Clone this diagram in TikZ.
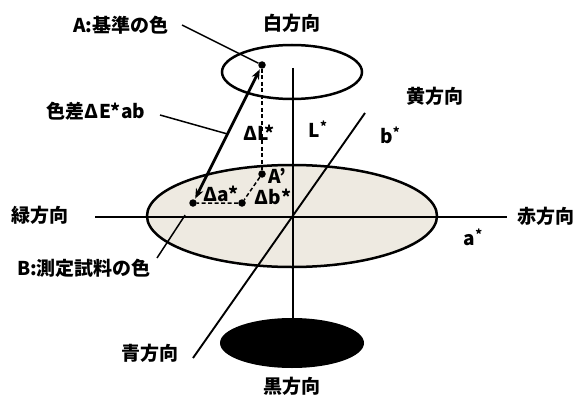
\documentclass[tikz,border=0pt]{standalone}
\usepackage{fontspec}
\setmainfont{Noto Sans CJK JP}
\usetikzlibrary{arrows.meta,calc}
\definecolor{beige}{RGB}{238,234,225}
\begin{document}
\begin{tikzpicture}[x=1pt,y=-1pt,
  lbl/.style={font=\fontsize{19}{21}\selectfont\bfseries, inner sep=0pt},
  axis/.style={line width=1.9pt},
  rim/.style={line width=2.5pt},
  leader/.style={line width=1.5pt},
  dsh/.style={line width=1.5pt, dash pattern=on 4pt off 2.5pt},
  dot/.style={circle, fill=black, inner sep=0pt, minimum size=7.5pt}]
\useasboundingbox (0,0) rectangle (578,396);
% main ellipse
\fill[beige] (292,216) ellipse [x radius=145, y radius=51];
\draw[rim] (292,216) ellipse [x radius=145, y radius=51];
% top ellipse
\draw[rim] (292,72) ellipse [x radius=70, y radius=27];
% black ellipse
\fill (292,343) ellipse [x radius=72, y radius=25];
% axes
\draw[axis] (95,217) -- (507,217);
\draw[axis] (293,68) -- (293,320);
\draw[axis] (365,113) -- (193,358);
% points
\node[dot] (A) at (262,65) {};
\node[dot] (Ap) at (262,174) {};
\node[dot] (M) at (242,203) {};
\node[dot] (B) at (193,203) {};
\draw[dsh] (A) -- (Ap);
\draw[dsh] (Ap) -- (M) -- (B);
\draw[line width=2.8pt, {Stealth[length=10pt,width=8pt]}-{Stealth[length=10pt,width=8pt]}, shorten <=1pt, shorten >=1pt] (B) -- (A);
% labels
\node[lbl] (lA) at (121,25) {A:基準の色};
\node[lbl] (lE) at (96,111) {色差ΔE*ab};
\node[lbl] (lB) at (84,268) {B:測定試料の色};
\node[lbl] (w) at (292,23) {白方向};
\node[lbl] (y) at (435,96) {黄方向};
\node[lbl] (g) at (40,215) {緑方向};
\node[lbl] (r) at (546,216) {赤方向};
\node[lbl] (bl) at (150,353) {青方向};
\node[lbl] (k) at (292,386) {黒方向};
\node[lbl] (L) at (318,129) {L\raisebox{6pt}{\fontsize{13}{13}\selectfont *}};
\node[lbl] (bs) at (390,135) {b\raisebox{6pt}{\fontsize{13}{13}\selectfont *}};
\node[lbl] (as) at (473,237) {a\raisebox{6pt}{\fontsize{13}{13}\selectfont *}};
\node[lbl] (dL) at (259,133) {ΔL*};
\node[lbl] (lAp) at (277,176) {A'};
\node[lbl] (da) at (221,194) {Δa*};
\node[lbl] (db) at (273,197) {Δb*};
% leaders
\coordinate (E) at ($(B)!0.5!(A)$);
\draw[leader] (182,25) -- (A);
\draw[leader] (160,115) -- (E);
\draw[leader] (157,258) -- ($(157,258)!0.78!(B)$);
\end{tikzpicture}
\end{document}
